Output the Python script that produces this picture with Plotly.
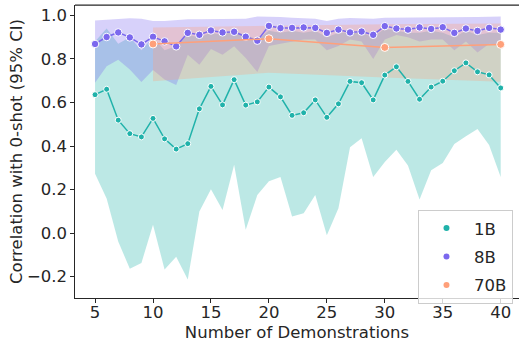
import plotly.graph_objects as go

# ---- data ----
n_all = list(range(5, 41))

mean_1b = [0.636, 0.661, 0.519, 0.457, 0.442, 0.527, 0.433, 0.386, 0.411, 0.571,
           0.674, 0.589, 0.705, 0.588, 0.603, 0.671, 0.626, 0.541, 0.553, 0.612,
           0.532, 0.594, 0.697, 0.691, 0.612, 0.726, 0.764, 0.697, 0.615, 0.671,
           0.698, 0.746, 0.782, 0.741, 0.727, 0.667]
upper_1b = [0.88, 0.94, 0.87, 0.90, 0.84, 0.90, 0.84, 0.86, 0.91, 0.90,
            0.92, 0.91, 0.93, 0.91, 0.89, 0.93, 0.92, 0.93, 0.92, 0.93,
            0.90, 0.92, 0.92, 0.92, 0.90, 0.94, 0.93, 0.92, 0.92, 0.93,
            0.92, 0.90, 0.93, 0.91, 0.92, 0.92]
lower_1b = [0.273, 0.159, -0.038, -0.164, -0.137, 0.038, -0.167, -0.109, -0.213, 0.099,
            0.202, 0.106, 0.314, 0.015, 0.175, 0.238, 0.258, 0.076, 0.091, 0.175,
            -0.010, 0.114, 0.395, 0.436, 0.258, 0.327, 0.383, 0.311, 0.155, 0.289,
            0.322, 0.410, 0.445, 0.478, 0.405, 0.258]

mean_8b = [0.869, 0.901, 0.922, 0.899, 0.867, 0.902, 0.881, 0.858, 0.920, 0.911,
           0.931, 0.922, 0.925, 0.902, 0.884, 0.952, 0.942, 0.943, 0.945, 0.943,
           0.920, 0.935, 0.922, 0.926, 0.911, 0.951, 0.940, 0.935, 0.945, 0.938,
           0.946, 0.920, 0.940, 0.929, 0.943, 0.935]
upper_8b = [0.977, 0.980, 0.985, 0.987, 0.985, 0.975, 0.975, 0.980, 0.982, 0.983,
            0.983, 0.984, 0.985, 0.985, 0.995, 0.995, 0.993, 0.990, 0.988, 0.985,
            0.975, 0.985, 0.988, 0.988, 0.985, 0.990, 0.990, 0.990, 0.990, 0.990,
            0.990, 0.990, 0.992, 0.993, 0.994, 0.995]
lower_8b = [0.691, 0.767, 0.797, 0.752, 0.694, 0.749, 0.706, 0.680, 0.820, 0.774,
            0.846, 0.820, 0.858, 0.805, 0.740, 0.860, 0.870, 0.880, 0.890, 0.890,
            0.840, 0.860, 0.890, 0.880, 0.800, 0.890, 0.910, 0.900, 0.880, 0.890,
            0.890, 0.840, 0.880, 0.830, 0.870, 0.860]

n_70b = [10, 20, 30, 40]
mean_70b = [0.869, 0.893, 0.853, 0.867]
upper_70b = [0.945, 0.953, 0.960, 0.963]
lower_70b = [0.698, 0.737, 0.715, 0.695]

series_names = ["1B", "8B", "70B"]
colors = ["#20b2aa", "#7b68ee", "#ffa07a"]
fills = ["rgba(32,178,170,0.3)", "rgba(123,104,238,0.3)", "rgba(255,160,122,0.3)"]

x_ticks = [5, 10, 15, 20, 25, 30, 35, 40]
y_ticks = [-0.2, 0.0, 0.2, 0.4, 0.6, 0.8, 1.0]

FONT = "DejaVu Sans"
INK = "#262626"
FS = 16.5

fig = go.Figure()

series = [
    (n_all, mean_1b, upper_1b, lower_1b, 6),
    (n_all, mean_8b, upper_8b, lower_8b, 7.5),
    (n_70b, mean_70b, upper_70b, lower_70b, 8),
]

# bands
for (xs, m, up, lo, ms), fc, name in zip(series, fills, series_names):
    fig.add_trace(go.Scatter(x=xs, y=up, mode="lines", line=dict(width=0),
                             legendgroup=name, showlegend=False, hoverinfo="skip"))
    fig.add_trace(go.Scatter(x=xs, y=lo, mode="lines", line=dict(width=0),
                             fill="tonexty", fillcolor=fc, legendgroup=name,
                             showlegend=False, hoverinfo="skip"))

# lines
for (xs, m, up, lo, ms), c, name in zip(series, colors, series_names):
    fig.add_trace(go.Scatter(x=xs, y=m, mode="lines+markers", legendgroup=name,
                             line=dict(color=c, width=1.5),
                             marker=dict(color=c, size=ms, line=dict(color="white", width=1)),
                             showlegend=False))

# legend entries
for name, c in zip(series_names, colors):
    fig.add_trace(go.Scatter(x=[None], y=[None], mode="markers", name=name,
                             legendgroup=name,
                             marker=dict(color=c, size=6)))

fig.add_shape(type="line", xref="paper", yref="paper", x0=0, x1=1.01, y0=1, y1=1,
              line=dict(color=INK, width=1.25))

fig.update_layout(
    width=519, height=342,
    margin=dict(l=75, r=0, t=5, b=41),
    paper_bgcolor="white", plot_bgcolor="white",
    font=dict(family=FONT, size=FS, color=INK),
    showlegend=True,
    legend=dict(x=0.7725, y=0.3007, xanchor="left", yanchor="top",
                bgcolor="rgba(255,255,255,0.8)", bordercolor="#cccccc", borderwidth=1,
                font=dict(family=FONT, size=FS, color=INK),
                tracegroupgap=4, itemwidth=45),
    xaxis=dict(range=[3.27, 41.58], tickvals=x_ticks, showgrid=False, zeroline=False,
               showline=True, linecolor=INK, linewidth=1.25,
               ticks="outside", ticklen=3.5, tickwidth=1.25, tickcolor=INK,
               ticklabelstandoff=-4,
               title=dict(text="Number of Demonstrations", standoff=8,
                          font=dict(family=FONT, size=FS, color=INK))),
    yaxis=dict(range=[-0.298, 1.048], tickvals=y_ticks, tickformat=".1f",
               showgrid=False, zeroline=False,
               showline=True, linecolor=INK, linewidth=1.25,
               ticks="outside", ticklen=3.5, tickwidth=1.25, tickcolor=INK,
               title=dict(text="Correlation with 0-shot (95% CI)", standoff=0,
                          font=dict(family=FONT, size=FS, color=INK))),
)

fig.write_html("out.html")
